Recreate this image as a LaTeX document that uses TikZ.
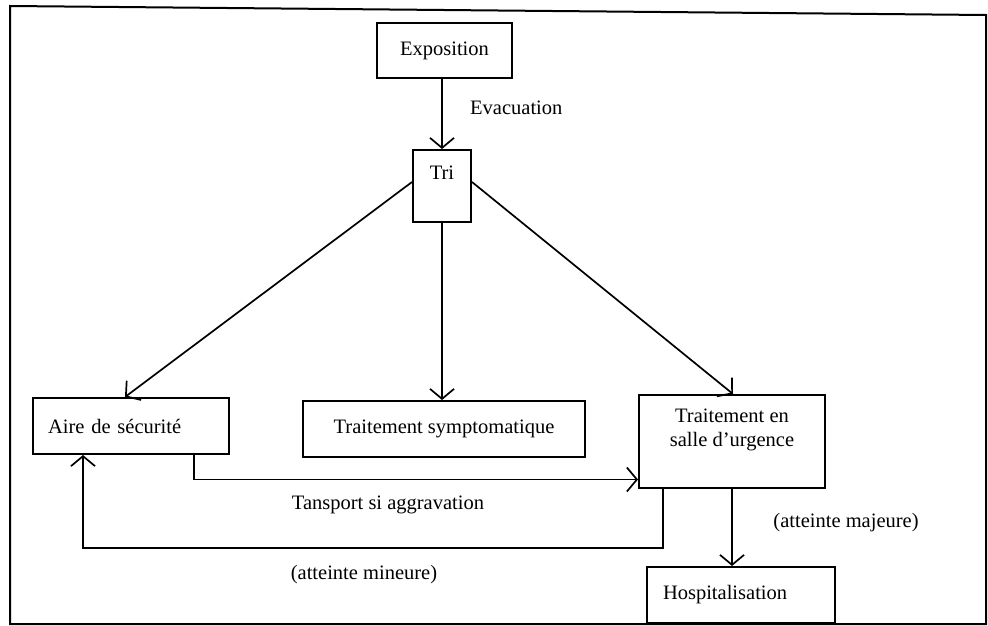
\documentclass[tikz,border=0pt]{standalone}
\usepackage{fontspec}
\setmainfont{Liberation Serif}
\usetikzlibrary{arrows.meta,calc}
\begin{document}
\begin{tikzpicture}[x=1pt,y=-1pt,
  every node/.style={font=\fontsize{20.5}{23.5}\selectfont},
  box/.style={draw, line width=2pt, inner sep=0pt},
  arr/.style={line width=1.7pt, -{Straight Barb[length=10pt,width=24pt,line width=1.7pt]}},
  lbl/.style={inner sep=0pt}]
\useasboundingbox (0,0) rectangle (988,626);
% frame
\draw[line width=2pt] (10,6) -- (986,15) -- (986,624) -- (10,624) -- cycle;
% boxes
\node[box, minimum width=135pt, minimum height=55pt] (expo) at (444.5,50.5) {Exposition};
\node[box, minimum width=58pt, minimum height=72pt,
      label={[lbl,anchor=north,yshift=-17pt]north:Tri}] (tri) at (442,186) {};
\node[box, minimum width=196pt, minimum height=56pt, text width=166pt, align=left,
      inner xsep=15pt] (aire) at (131,426) {Aire de sécurité};
\node[box, minimum width=282pt, minimum height=56pt] (symp) at (444,429) {Traitement symptomatique};
\node[box, minimum width=186pt, minimum height=93pt,
      label={[lbl,anchor=north,yshift=-15pt,align=center]north:Traitement en\\salle d'urgence}] (urg) at (732,441.5) {};
\node[box, minimum width=188pt, minimum height=56pt, text width=156pt, align=left,
      inner xsep=16pt] (hosp) at (741,595) {Hospitalisation};
% connectors
\draw[arr] (expo.south -| tri.north) -- (tri.north);
\node[lbl, anchor=west] (evac) at (470,108) {Evacuation};
\draw[arr] ([yshift=4pt]tri.west) -- ([xshift=-6pt]aire.north);
\draw[arr] (tri.south) -- (tri.south |- symp.north);
\draw[arr] ([yshift=4pt]tri.east) -- ([xshift=1pt]urg.north);
\draw[arr] ([xshift=63pt]aire.south) |- ([yshift=-38pt]urg.west);
\node[lbl] (transp) at (388,505) {Tansport si aggravation};
\draw[arr] ([xshift=-69pt]urg.south) -- ++(0,59) -| ([xshift=-48pt]aire.south);
\node[lbl] (mineure) at (364,575) {(atteinte mineure)};
\draw[arr] (urg.south) -- (urg.south |- hosp.north);
\node[lbl] (majeure) at (846,523) {(atteinte majeure)};
\end{tikzpicture}
\end{document}
